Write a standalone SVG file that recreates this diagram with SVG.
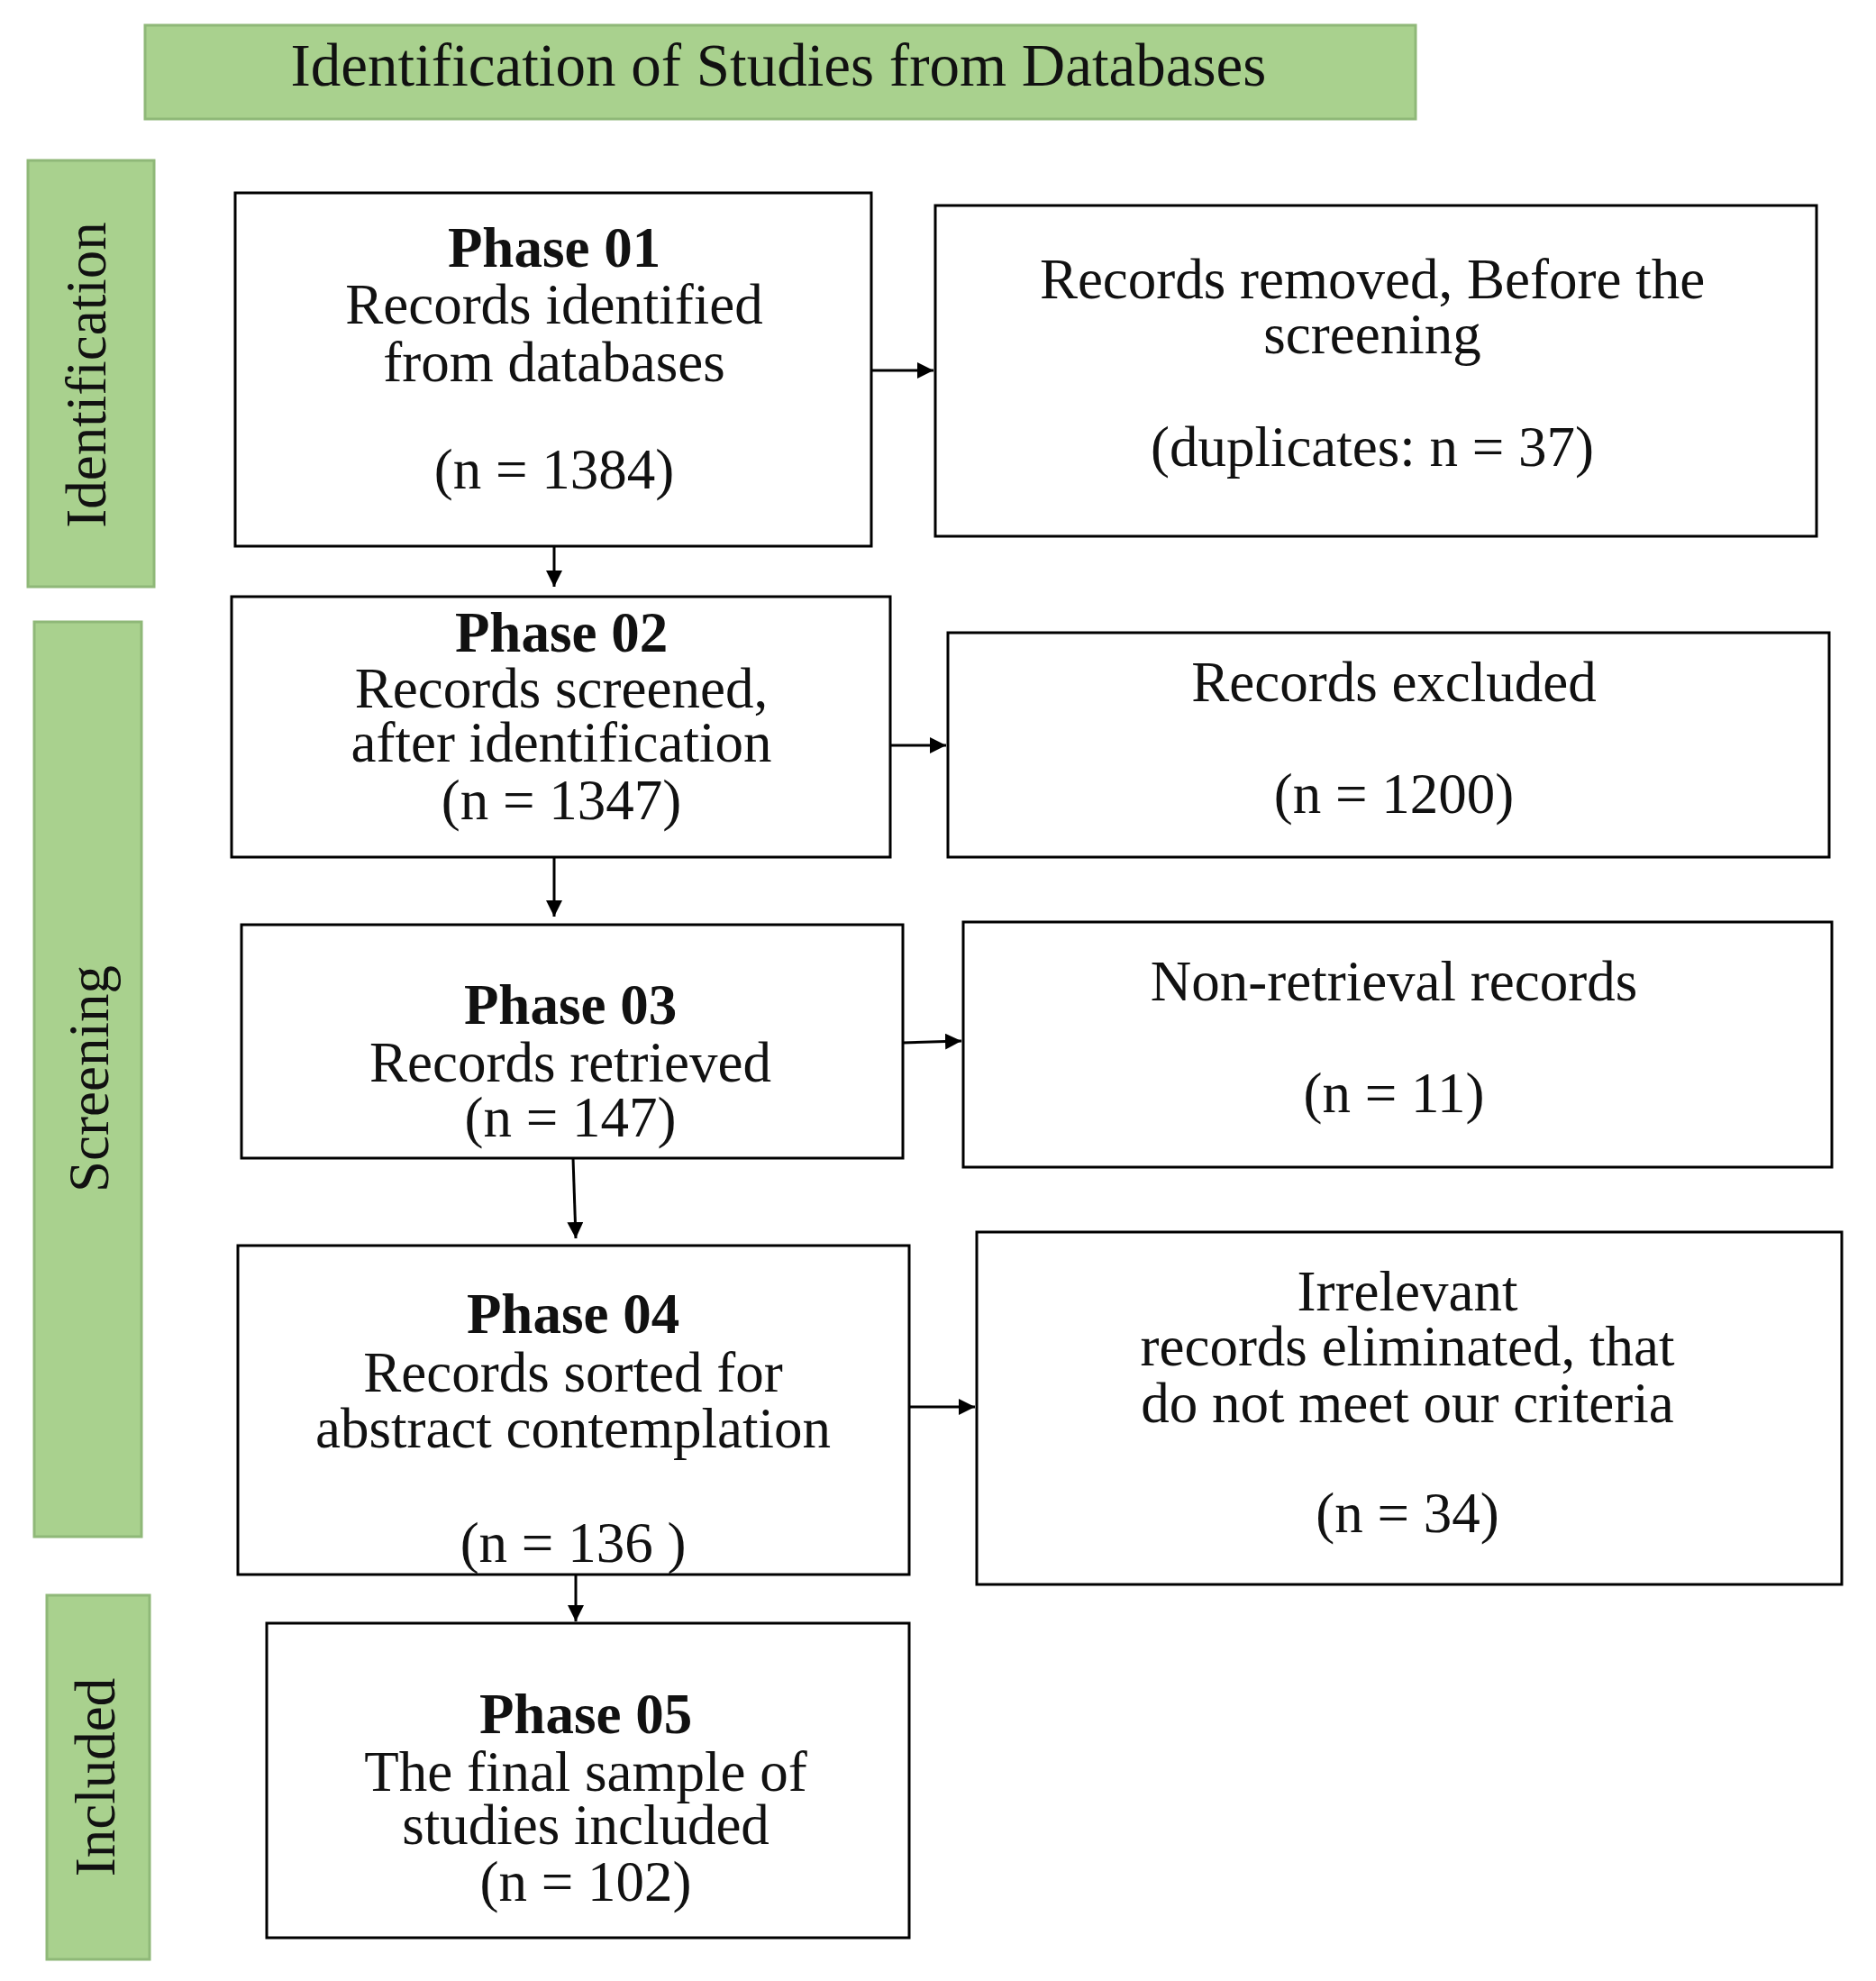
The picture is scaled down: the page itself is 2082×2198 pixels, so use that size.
<svg xmlns="http://www.w3.org/2000/svg" width="2082" height="2198" viewBox="0 0 2082 2198">
<defs>
<marker id="ah" viewBox="0 0 10 10" refX="10" refY="5" markerWidth="6" markerHeight="6" orient="auto"><path d="M0,0 L10,5 L0,10 z" fill="#000"/></marker>
</defs>
<style>
.side{fill:#a9d18e;stroke:#8fb878;stroke-width:3}
.box{fill:#fff;stroke:#000;stroke-width:3}
text{font-family:"Liberation Serif","DejaVu Serif",serif;font-size:63px;fill:#111;text-anchor:middle}
.t{font-size:67px}
.b{font-weight:bold}
.c line{stroke:#000;stroke-width:3;marker-end:url(#ah)}
</style>
<rect width="2082" height="2198" fill="#fff"/>
<g id="title"><rect class="side" x="161" y="28" width="1410" height="104"/><text class="t" x="864" y="95">Identification of Studies from Databases</text></g>
<g id="side-identification"><rect class="side" x="31" y="178" width="140" height="473"/><text transform="translate(117,416) rotate(-90)">Identification</text></g>
<g id="side-screening"><rect class="side" x="38" y="690" width="119" height="1015"/><text transform="translate(120,1197) rotate(-90)">Screening</text></g>
<g id="side-included"><rect class="side" x="52" y="1770" width="114" height="404"/><text transform="translate(127,1972) rotate(-90)">Included</text></g>
<g id="phase01"><rect class="box" x="261" y="214" width="706" height="392"/><text x="615" y="296" class="b">Phase 01</text><text x="615" y="359">Records identified</text><text x="615" y="423">from databases</text><text x="615" y="542">(n = 1384)</text></g>
<g id="removed"><rect class="box" x="1038" y="228" width="978" height="367"/><text x="1523" y="331">Records removed, Before the</text><text x="1523" y="392">screening</text><text x="1523" y="517">(duplicates: n = 37)</text></g>
<g id="phase02"><rect class="box" x="257" y="662" width="731" height="289"/><text x="623" y="723" class="b">Phase 02</text><text x="623" y="785">Records screened,</text><text x="623" y="845">after identification</text><text x="623" y="909">(n = 1347)</text></g>
<g id="excluded"><rect class="box" x="1052" y="702" width="978" height="249"/><text x="1547" y="778">Records excluded</text><text x="1547" y="902">(n = 1200)</text></g>
<g id="phase03"><rect class="box" x="268" y="1026" width="734" height="259"/><text x="633" y="1136" class="b">Phase 03</text><text x="633" y="1200">Records retrieved</text><text x="633" y="1261">(n = 147)</text></g>
<g id="nonretrieval"><rect class="box" x="1069" y="1023" width="964" height="272"/><text x="1547" y="1110">Non-retrieval records</text><text x="1547" y="1234">(n = 11)</text></g>
<g id="phase04"><rect class="box" x="264" y="1382" width="745" height="365"/><text x="636" y="1479" class="b">Phase 04</text><text x="636" y="1544">Records sorted for</text><text x="636" y="1606">abstract contemplation</text><text x="636" y="1733">(n = 136 )</text></g>
<g id="irrelevant"><rect class="box" x="1084" y="1367" width="960" height="391"/><text x="1562" y="1454">Irrelevant</text><text x="1562" y="1515">records eliminated, that</text><text x="1562" y="1578">do not meet our criteria</text><text x="1562" y="1700">(n = 34)</text></g>
<g id="phase05"><rect class="box" x="296" y="1801" width="713" height="349"/><text x="650" y="1923" class="b">Phase 05</text><text x="650" y="1987">The final sample of</text><text x="650" y="2046">studies included</text><text x="650" y="2109">(n = 102)</text></g>
<g class="c" id="connectors">
<line x1="615" y1="606" x2="615" y2="651"/>
<line x1="967" y1="411" x2="1036" y2="411"/>
<line x1="615" y1="951" x2="615" y2="1017"/>
<line x1="988" y1="827" x2="1050" y2="827"/>
<line x1="636" y1="1285" x2="639" y2="1374"/>
<line x1="1002" y1="1157" x2="1067" y2="1155"/>
<line x1="639" y1="1747" x2="639" y2="1799"/>
<line x1="1009" y1="1561" x2="1082" y2="1561"/>
</g>
</svg>
